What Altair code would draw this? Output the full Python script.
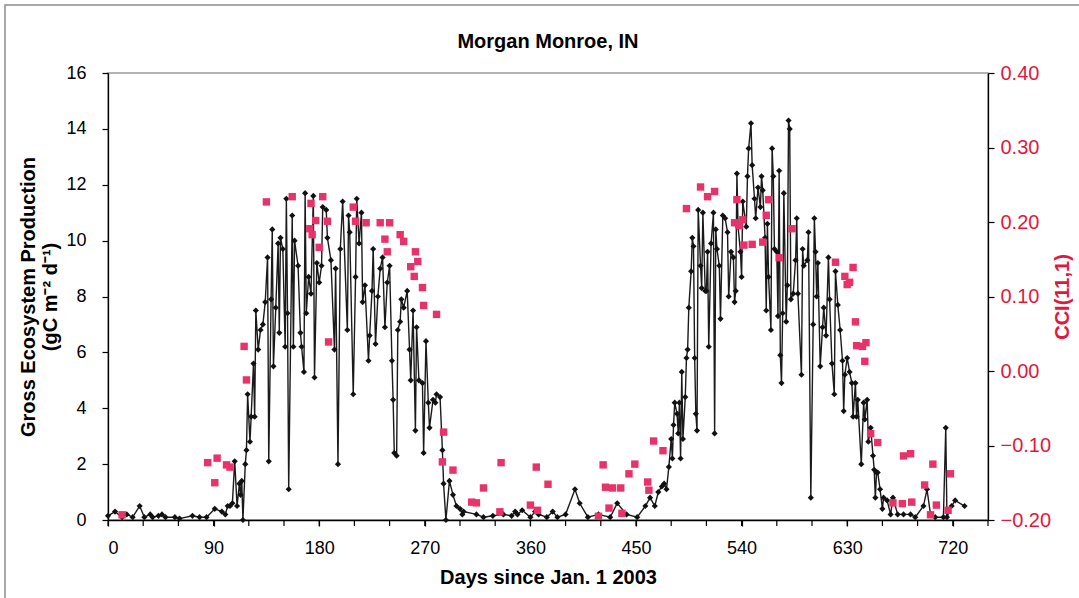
import altair as alt
import pandas as pd

# Daily gross ecosystem production (gC m-2 d-1)
gep_day = [0, 6, 12, 16, 21, 27, 31, 36, 38, 43, 46, 49, 57, 61, 72, 78, 84, 91, 97, 100,
           102, 104, 106, 108, 110, 112, 113, 114, 115, 117, 118, 119, 121, 122, 124, 125, 126, 128, 130, 132,
           134, 136, 137, 139, 140, 141, 143, 145, 146, 147, 149, 151, 152, 153, 154, 157, 158, 159, 162, 164,
           165, 167, 168, 169, 171, 173, 175, 176, 178, 180, 182, 183, 186, 187, 190, 193, 194, 196, 198, 200,
           204, 205, 206, 209, 211, 212, 214, 216, 217, 219, 222, 223, 225, 226, 228, 230, 232, 234, 236, 238,
           240, 242, 243, 244, 246, 247, 249, 250, 252, 255, 257, 258, 260, 262, 263, 265, 268, 269, 271, 273,
           274, 277, 279, 280, 283, 285, 286, 288, 291, 294, 297, 300, 302, 303, 314, 320, 328, 337, 344, 347,
           349, 353, 360, 364, 367, 374, 379, 383, 390, 398, 402, 409, 418, 428, 434, 442, 451,
           458, 462, 466, 469, 472, 474, 476, 478, 480, 481, 482, 483, 485, 486, 487, 488, 489, 490, 492, 493,
           494, 495, 497, 498, 499, 500, 501, 502, 503, 505, 506, 507, 509, 510, 511, 512, 514, 516, 517, 518,
           519, 521, 522, 524, 526, 528, 529, 531, 533, 534, 535, 536, 537, 539, 540, 541, 544, 545, 546, 548,
           549, 551, 552, 554, 556, 557, 558, 560, 561, 562, 563, 565, 566, 567, 568, 570, 571, 572, 573, 574,
           575, 576, 578, 579, 580, 581, 582, 584, 586, 587, 588, 591, 592, 593, 596, 597, 599, 601, 602, 603,
           604, 605, 607, 609, 610, 612, 614, 615, 617, 619, 620, 622, 624, 626, 627, 628, 630, 632, 634, 635,
           637, 638, 639, 642, 644, 645, 647, 648, 650, 652, 653, 654, 655, 656, 658, 660, 661, 664, 667, 669,
           673, 678, 684, 688, 695, 698, 701, 705, 712, 714, 715, 719, 722, 730]
gep_val = [0.15, 0.3, 0.1, 0.2, 0.1, 0.5, 0.1, 0.2, 0.1, 0.15, 0.2, 0.1, 0.1, 0.05, 0.15, 0.1, 0.1, 0.4, 0.3, 0.2,
           0.5, 0.5, 0.6, 2.1, 0.5, 1.3, 0.9, 1.4, 0.0, 2.0, 2.5, 4.5, 2.8, 3.7, 5.6, 3.7, 7.5, 6.1, 6.8, 7.0,
           7.8, 9.4, 2.1, 7.9, 10.4, 5.5, 7.6, 9.9, 6.7, 10.1, 9.7, 6.2, 11.5, 7.4, 1.1, 10.9, 6.2, 10.0, 9.1, 6.7,
           6.2, 5.3, 11.7, 7.4, 8.7, 8.1, 11.6, 5.1, 9.2, 8.5, 9.1, 11.2, 11.1, 10.1, 9.3, 6.1, 9.0, 2.0, 9.7, 11.4,
           6.8, 10.9, 10.3, 4.5, 8.7, 11.5, 9.9, 11.0, 7.8, 8.4, 5.7, 6.6, 8.2, 9.7, 6.3, 8.0, 9.0, 9.4, 6.9, 8.5,
           9.1, 5.7, 4.3, 2.4, 2.3, 6.8, 7.1, 7.9, 7.6, 8.2, 6.1, 5.0, 7.5, 3.2, 6.9, 5.0, 4.9, 2.4, 6.4, 4.2,
           3.3, 4.3, 4.2, 4.5, 4.4, 2.5, 1.3, 0.0, 1.4, 0.9, 0.5, 0.4, 0.2, 0.3, 0.2, 0.1, 0.15, 0.2, 0.15, 0.3,
           0.2, 0.35, 0.1, 0.3, 0.2, 0.1, 0.3, 0.1, 0.2, 1.1, 0.6, 0.1, 0.2, 0.1, 0.6, 0.2, 0.1,
           0.5, 0.8, 0.5, 1.0, 1.2, 1.3, 1.1, 1.9, 2.9, 2.2, 3.4, 4.2, 3.8, 3.1, 4.2, 2.2, 5.3, 2.9, 4.4, 5.8,
           6.1, 7.6, 8.9, 10.1, 9.8, 5.8, 3.8, 3.2, 11.1, 9.1, 8.3, 11.0, 8.2, 8.2, 9.6, 6.2, 9.9, 11.0, 3.1, 10.4,
           9.7, 9.1, 7.2, 10.9, 10.8, 10.3, 8.0, 9.6, 9.4, 7.8, 8.2, 12.4, 10.5, 9.6, 8.7, 11.4, 10.5, 12.3, 13.3, 14.2,
           12.7, 11.5, 10.8, 11.9, 11.2, 12.3, 11.8, 10.1, 7.5, 10.6, 8.7, 6.8, 13.3, 12.3, 9.7, 9.6, 7.3, 12.5, 5.9, 4.9,
           7.4, 11.7, 7.1, 8.4, 14.3, 14.0, 7.9, 8.1, 9.3, 10.8, 8.1, 5.2, 9.7, 9.1, 9.3, 10.3, 0.8, 7.0, 10.8, 9.6,
           8.0, 9.2, 5.5, 6.9, 7.6, 6.6, 9.4, 7.9, 5.6, 4.5, 8.9, 7.7, 6.8, 5.7, 3.9, 5.2, 5.8, 5.3, 4.9, 3.7,
           4.9, 3.7, 4.3, 2.0, 4.2, 3.6, 4.3, 2.8, 3.3, 2.3, 1.8, 0.8, 1.7, 1.7, 1.1, 0.4, 0.8, 0.7, 0.2, 0.8,
           0.2, 0.2, 0.2, 0.1, 0.5, 1.1, 0.2, 0.1, 0.1, 3.3, 0.1, 0.5, 0.7, 0.5]

# CCI(11,1)
cci_day = [12, 85, 91, 93, 101, 104, 116, 118, 135, 157, 172, 173, 174, 177, 180, 183, 187, 188,
           209, 211, 220, 232, 236, 238, 240, 249, 252, 258, 261, 262, 264, 268, 269, 280, 285, 286, 294,
           310, 314, 320, 334, 335, 360, 365, 366, 375, 418, 422, 424, 427, 430, 437, 438, 444, 449,
           460, 461, 465, 473, 493, 505, 511, 517, 534, 536, 538, 541, 542, 549, 558, 561, 563, 572,
           583, 620, 628, 630, 632, 635, 637, 638, 643, 645, 646, 650, 656, 669, 677, 678, 684, 685,
           696, 701, 703, 706, 716, 718]
cci_val = [-0.193, -0.123, -0.150, -0.117, -0.126, -0.129, 0.033, -0.012, 0.227, 0.234, 0.191, 0.225,
           0.183, 0.202, 0.166, 0.234, 0.201, 0.039, 0.220, 0.201, 0.199, 0.199, 0.177, 0.160, 0.199,
           0.183, 0.174, 0.140, 0.127, 0.160, 0.147, 0.112, 0.088, 0.076, -0.122, -0.082, -0.133,
           -0.176, -0.177, -0.157, -0.189, -0.123, -0.180, -0.129, -0.187, -0.152, -0.195, -0.126,
           -0.156, -0.184, -0.157, -0.157, -0.191, -0.138, -0.125, -0.149, -0.160, -0.094, -0.107,
           0.218, 0.247, 0.234, 0.241, 0.199, 0.230, 0.195, 0.203, 0.169, 0.170, 0.173, 0.209, 0.230,
           0.152, 0.191, 0.146, 0.127, 0.116, 0.119, 0.139, 0.066, 0.034, 0.033, 0.013, 0.038, -0.084,
           -0.096, -0.177, -0.178, -0.114, -0.111, -0.176, -0.153, -0.193, -0.125, -0.180, -0.187, -0.138]

x_major = list(range(0, 721, 90))
x_minor = list(range(0, 751, 30))
gep_ticks = list(range(0, 17, 2))
cci_ticks = [-0.2, -0.1, 0.0, 0.1, 0.2, 0.3, 0.4]

TITLE = "Morgan Monroe, IN"
XTITLE = "Days since Jan. 1 2003"
FONT = "Liberation Sans"
RED = "#E3173E"
PINK = "#E8336A"

gep_df = pd.DataFrame({"day": gep_day, "gep": gep_val})
cci_df = pd.DataFrame({"day": cci_day, "cci": cci_val})
minor_df = pd.DataFrame({"day": x_minor})

x_enc = alt.X(
    "day:Q",
    title=XTITLE,
    scale=alt.Scale(domain=[0, 750], nice=False, zero=False),
    axis=alt.Axis(
        values=x_major,
        labelOverlap=False,
        grid=False,
        tickSize=6,
        labelPadding=13,
        titlePadding=10,
    ),
)

gep_y = alt.Y(
    "gep:Q",
    scale=alt.Scale(domain=[0, 16], nice=False),
    axis=alt.Axis(
        title=["Gross Ecosystem Production", "(gC m\u207b\u00b2 d\u207b\u00b9)"],
        values=gep_ticks,
        grid=False,
        tickSize=6,
        labelPadding=16,
        titlePadding=5,
        titleLineHeight=22,
    ),
)

line = alt.Chart(gep_df).mark_line(color="#1a1a1a", strokeWidth=1.4).encode(x=x_enc, y=gep_y)
pts = alt.Chart(gep_df).mark_point(
    shape="diamond", filled=True, size=38, color="#111111", opacity=1
).encode(x=alt.X("day:Q", title=XTITLE), y="gep:Q")

minor = alt.Chart(minor_df).mark_rule(color="#000000", strokeWidth=1.2).encode(
    x=alt.X("day:Q", title=XTITLE), y=alt.value(447), y2=alt.value(453)
)

cci = alt.Chart(cci_df).mark_point(
    shape="square", filled=True, size=55, color=PINK, opacity=1
).encode(
    x=alt.X("day:Q", title=XTITLE),
    y=alt.Y(
        "cci:Q",
        scale=alt.Scale(domain=[-0.2, 0.4], nice=False, zero=False),
        axis=alt.Axis(
            orient="right",
            title="CCI(11,1)",
            values=cci_ticks,
            format=".2f",
            grid=False,
            tickSize=6,
            labelPadding=6,
            labelFontSize=20,
            labelColor=RED,
            titleColor=RED,
            titleAngle=270,
            titlePadding=22,
        ),
    ),
)

single = alt.Data(values=[{}])

frame = alt.Chart(single).mark_rect(
    fill="transparent", stroke="#8a8a8a", strokeWidth=1.5
).encode(x=alt.value(-103), x2=alt.value(1000), y=alt.value(-68), y2=alt.value(540))

title = alt.Chart(single).mark_text(
    text=TITLE, font=FONT, fontSize=20, fontWeight="bold", color="#000000",
    align="center", baseline="middle"
).encode(x=alt.value(440), y=alt.value(-31))

chart = alt.layer(
    alt.layer(line, pts, minor), cci, frame, title
).resolve_scale(y="independent").properties(
    width=880,
    height=447,
    padding={"left": 108, "top": 73, "right": 91, "bottom": 78},
    autosize=alt.AutoSizeParams(type="none"),
    background="white",
).configure_view(
    stroke="#9a9a9a", strokeWidth=1.5
).configure_axis(
    labelFont=FONT, titleFont=FONT, labelFontSize=18, titleFontSize=20,
    titleFontWeight="bold", labelColor="#000000", titleColor="#000000",
    domainColor="#000000", tickColor="#000000", domainWidth=1.3, tickWidth=1.2,
)

chart.save("out.html", embed_options={"renderer": "svg", "actions": False})
